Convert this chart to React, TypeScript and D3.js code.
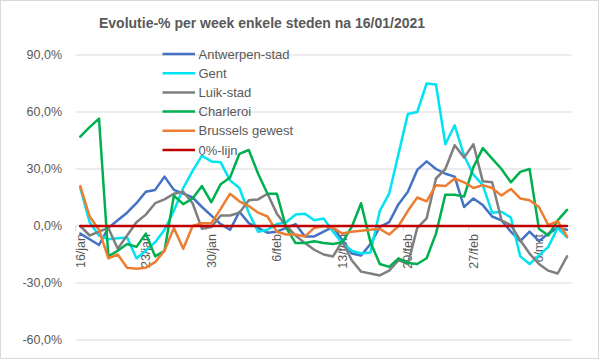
import * as d3 from 'd3';

// Dagelijkse categorieën 16/jan t/m 9/mrt (53 dagen)
const startDate = new Date(2021, 0, 16);
const dayCount = 53;
const tickLabels = ['16/jan', '23/jan', '30/jan', '6/feb', '13/feb', '20/feb', '27/feb', '6/mrt'];
const yTicks = [-60, -30, 0, 30, 60, 90];

const antwerpen = [-4, -7, -10, -1, 3, 7, 12, 18, 19, 26, 19, 17, 15, 10, 5.5, 1, -2, 7.5, 1.5, -1, -3.5, -3, -1, 1, -5.5, -5.5, -3, -0.5, -7.5, -14.5, -15.5, -9.5, -0.5, 2, 11.5, 18, 29.5, 34, 30, 27.5, 26, 10, 14.5, 11, 5, 3, -3, -8, -3, -8, -4, -1, -2];
const gent = [20, 2, -5, -7, -6.5, -6, -17, -13, -8.5, -2, 8, 20, 29, 37, 34, 33.5, 24, 20, 7, -3, -2, 1, 2, 6, 6.5, 3, 4, -3, -9, -13, -14.5, -14, 8, 17, 38, 59, 60, 75, 74.5, 43, 53, 37, 27, 21.5, 7, 7.5, 4.5, -16, -20, -15.5, -11, -1, -6];
const luik = [0, -5, -3, -1, -12, -5, 2, 6, 12, 14, 17, 18, 12, -1.5, -0.5, 5.5, 5.5, 7, 13.5, 14, 17, 6.5, 0, -5, -9, -12.5, -15, -16, -8, -18, -24, -25, -26, -23.5, -18, -20, -1, 4, 25, 30, 42.5, 36, 43, 23.5, 23, 3, 0.5, -7.5, -14.5, -20, -23.5, -25, -16];
const charleroi = [47, 52, 56.5, -16, -13, -9.5, -11, -4, -16, -13, 16, 11.5, 14.5, 21, 12.5, 22, 25.5, 38, 40, 27.5, 17, 17, -1, -9, -9, -8, -9, -9.5, -8.5, -0.5, 12, -8.5, -20, -21.5, -17, -19.5, -20, -17, -4, 16.5, 16.5, 15.5, 31, 41, 35.5, 30, 23, 28.5, 30, -1.5, -5, 3, 8.5];
const brussel = [21, 5, -2, -17, -15, -22, -22.5, -22, -19, -13, -1, -12, 0, 1.5, 1.5, 9, 17, 13, 10.5, 7, 5, -3, -4.5, -4.5, -5.5, -1, 0, -1, -4, -3, -2.5, -2, -1.5, -4.5, 0, 8, 15, 13, 21.5, 21, 25, 23, 20, 21.5, 20, 16, 19.5, 14.5, 13.5, 10, 0.5, 2.5, -5.5];
const nulLijn = d3.range(dayCount).map(() => 0);

const series = [
  { name: 'Antwerpen-stad', color: '#4472C4', values: antwerpen },
  { name: 'Gent', color: '#00E3F2', values: gent },
  { name: 'Luik-stad', color: '#7F7F7F', values: luik },
  { name: 'Charleroi', color: '#00B050', values: charleroi },
  { name: 'Brussels gewest', color: '#ED7D31', values: brussel },
  { name: '0%-lijn', color: '#C00000', values: nulLijn },
];

const W = 599;
const H = 359;
const textColor = '#595959';
const gridColor = '#D9D9D9';

const nl = d3.formatLocale({ decimal: ',', thousands: '.', grouping: [3], currency: ['€', ''], minus: '-' });
const fmtPct = (v: number) => nl.format('.1f')(v) + '%';

const dayLabel = (i: number) => {
  const d = d3.timeDay.offset(startDate, i);
  const m = ['jan', 'feb', 'mrt'][d.getMonth()];
  return `${d.getDate()}/${m}`;
};

export default function App() {
  const days = d3.range(dayCount).map(dayLabel);

  const x = d3.scaleBand<string>()
    .domain(days)
    .range([75.6, 571.7]);
  const cx = (i: number) => (x(days[i]) as number) + x.bandwidth() / 2;

  const y = d3.scaleLinear()
    .domain([-60, 90])
    .range([340, 55]);

  const line = d3.line<number>()
    .x((_, i) => cx(i))
    .y(d => y(d));

  const font = '"Liberation Sans", Arial, sans-serif';

  return (
    <div style={{ position: 'absolute', left: 0, top: 0 }}>
      <svg width={W} height={H} style={{ display: 'block', fontFamily: font }}>
        <rect x={0.5} y={0.5} width={W - 1} height={H - 1} fill="#fff" stroke={gridColor} />

        <text x={262} y={28} textAnchor="middle" fontSize={14} fontWeight="bold" fill={textColor}>
          Evolutie-% per week enkele steden na 16/01/2021
        </text>

        {/* rasterlijnen + y-as */}
        {yTicks.map(t => (
          <g key={t}>
            <line x1={75.6} x2={571.7} y1={y(t)} y2={y(t)} stroke={gridColor} strokeWidth={1} />
            <text x={62} y={y(t)} dy="0.35em" textAnchor="end" fontSize={12.5} fill={textColor}>
              {fmtPct(t)}
            </text>
          </g>
        ))}

        {/* x-as ticks en labels, elke 7 dagen */}
        {days.map((d, i) => tickLabels.includes(d) ? (
          <g key={d}>
            <line x1={x(d)} x2={x(d)} y1={y(0)} y2={y(0) + 5} stroke={gridColor} />
            <text transform={`translate(${cx(i)},${y(0) + 8}) rotate(-90)`} dy="0.35em" textAnchor="end" fontSize={12.5} fill={textColor}>
              {d}
            </text>
          </g>
        ) : null)}

        {/* lijnen */}
        {series.map(s => (
          <path key={s.name} d={line(s.values) || ''} fill="none" stroke={s.color} strokeWidth={2.5} strokeLinejoin="round" strokeLinecap="round" />
        ))}

        {/* legende */}
        {series.map((s, i) => (
          <g key={s.name} transform={`translate(162.5,${54 + i * 19.2})`}>
            <line x1={0} x2={32.5} y1={0} y2={0} stroke={s.color} strokeWidth={2.5} />
            <text x={36} y={0} dy="0.35em" fontSize={13} fill={textColor}>{s.name}</text>
          </g>
        ))}
      </svg>
    </div>
  );
}
